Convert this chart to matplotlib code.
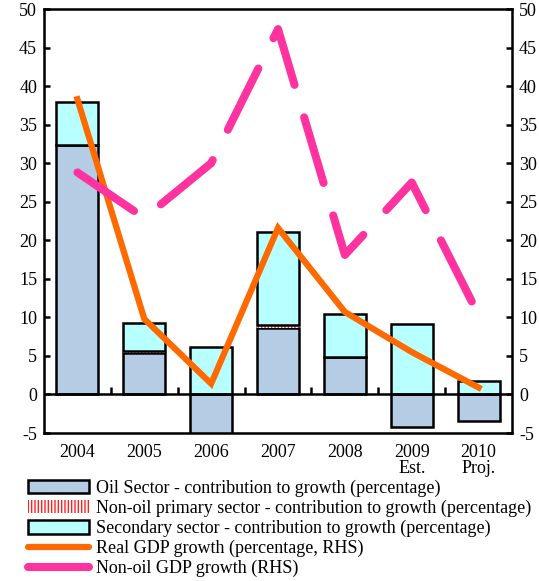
import matplotlib
matplotlib.use("Agg")
import matplotlib.pyplot as plt
import numpy as np
from matplotlib.patches import Patch
from matplotlib.lines import Line2D

plt.rcParams["font.family"] = ["Liberation Serif", "DejaVu Serif"]
plt.rcParams["hatch.linewidth"] = 1.0
plt.rcParams["axes.unicode_minus"] = False

years = ["2004", "2005", "2006", "2007", "2008", "2009\nEst.", "2010\nProj."]
oil = [32.3, 5.4, -5.5, 8.6, 4.8, -4.2, -3.5]
non_oil_primary = [0.0, 0.3, 0.0, 0.4, 0.0, 0.0, 0.1]
secondary = [5.7, 3.6, 6.1, 12.1, 5.6, 9.1, 1.6]
real_gdp = [38.3, 9.8, 1.4, 21.6, 10.7, 5.5, 0.9]
non_oil_gdp = [28.8, 22.9, 30.0, 47.4, 18.1, 27.5, 10.3]

c_oil = "#b4cce4"
c_sec = "#b8ffff"
c_red = "#ff2020"
c_orange = "#ff6a00"
c_pink = "#ff33a0"
fs = 13

fig = plt.figure(figsize=(5.39, 5.81), dpi=100)
ax = fig.add_axes([0.0816, 0.2547, 0.8684, 0.7298])
x = np.arange(len(years))
w = 0.63

# stack positives upward from 0, negatives downward from 0
oil_a = np.array(oil)
nop_a = np.array(non_oil_primary)
sec_a = np.array(secondary)
pos_base = np.where(oil_a > 0, oil_a, 0.0)
ax.bar(x, oil_a, w, color=c_oil, edgecolor="black", linewidth=1.8, zorder=2)
ax.bar(x, nop_a, w, bottom=pos_base, color="white", edgecolor=c_red,
       hatch="|||||", linewidth=0, zorder=2)
ax.bar(x, sec_a, w, bottom=pos_base + nop_a, color=c_sec, edgecolor="black",
       linewidth=1.8, zorder=2)

ax.axhline(0, color="black", linewidth=1.8, zorder=3)
ax.plot(x[:-1] + 0.5, np.zeros(len(x) - 1), linestyle="none", marker=2,
        markersize=5, markeredgewidth=1.8, color="black", zorder=3)

ax.set_xlim(-0.5, len(years) - 0.5)
ax.set_ylim(-5, 50)
ax.set_yticks(np.arange(-5, 51, 5))
ax.set_xticks(x)
ax.set_xticklabels(years, fontsize=fs, linespacing=0.95)
ax.tick_params(axis="x", length=0, pad=8)
ax.tick_params(axis="y", direction="in", length=4, width=1.8, labelsize=fs,
               pad=5)
for s in ax.spines.values():
    s.set_linewidth(1.8)

ax2 = ax.twinx()
ax2.set_ylim(-5, 50)
ax2.set_yticks(np.arange(-5, 51, 5))
ax2.tick_params(axis="y", direction="in", length=4, width=1.8, labelsize=fs,
                pad=5)
ax2.plot(x, real_gdp, color=c_orange, linewidth=4.5, solid_joinstyle="miter",
         zorder=4)
ax2.plot(x, non_oil_gdp, color=c_pink, linewidth=5.8, dashes=(8.5, 4.2),
         dash_capstyle="round", zorder=4)

handles = [
    Patch(facecolor=c_oil, edgecolor="black", linewidth=1.8),
    Patch(facecolor="white", edgecolor=c_red, hatch="|||||", linewidth=0),
    Patch(facecolor=c_sec, edgecolor="black", linewidth=1.8),
    Line2D([], [], color=c_orange, linewidth=4.5, solid_capstyle="round"),
    Line2D([], [], color=c_pink, linewidth=5.8, solid_capstyle="round"),
]
labels = [
    "Oil Sector - contribution to growth (percentage)",
    "Non-oil primary sector - contribution to growth (percentage)",
    "Secondary sector - contribution to growth (percentage)",
    "Real GDP growth (percentage, RHS)",
    "Non-oil GDP growth (RHS)",
]
fig.legend(handles, labels, loc="upper left", bbox_to_anchor=(0.052, 0.174),
           frameon=False, fontsize=fs, labelspacing=0.15, handlelength=3.4,
           handleheight=0.75, handletextpad=0.35, borderpad=0, borderaxespad=0)

fig.savefig("out.png", dpi=100)
